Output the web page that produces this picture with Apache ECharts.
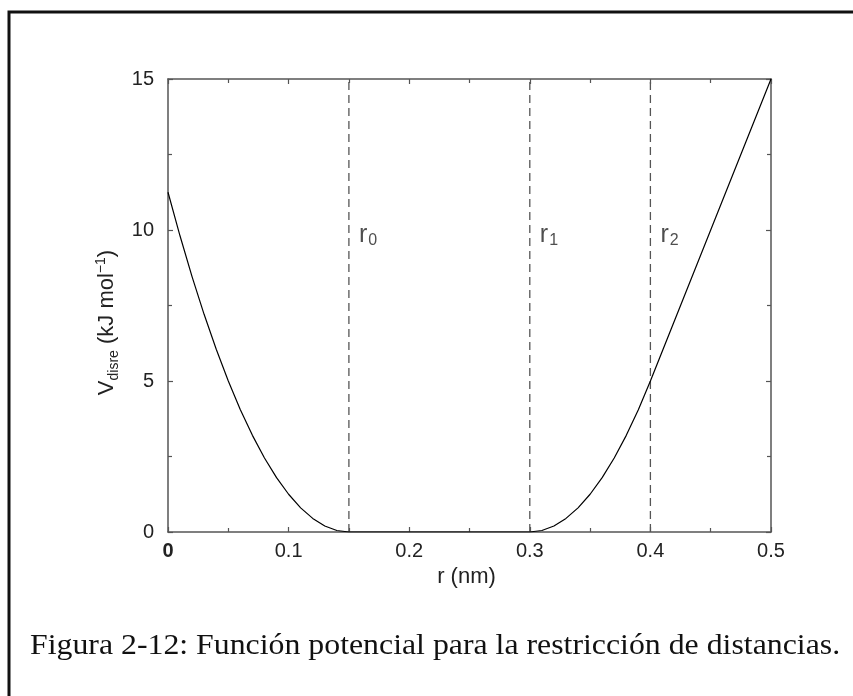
<!DOCTYPE html>
<html>
<head>
<meta charset="utf-8">
<script src="https://cdn.jsdelivr.net/npm/echarts@6/dist/echarts.min.js"></script>
<style>
    html, body { margin: 0; padding: 0; background: #fff; }
    #chart { width: 853px; height: 696px; }
</style>
</head>
<body>
<div id="chart"></div>
<script>
// curve: r (nm) vs V_disre (kJ mol^-1)
var rValues = [0, 0.01, 0.02, 0.03, 0.04, 0.05, 0.06, 0.07, 0.08, 0.09, 0.10, 0.11, 0.12, 0.13, 0.14, 0.15,
    0.20, 0.25, 0.30, 0.31, 0.32, 0.33, 0.34, 0.35, 0.36, 0.37, 0.38, 0.39, 0.40, 0.45, 0.50]
var vValues = [11.25, 9.8, 8.45, 7.2, 6.05, 5.0, 4.05, 3.2, 2.45, 1.8, 1.25, 0.8, 0.45, 0.2, 0.05, 0,
    0, 0, 0, 0.05, 0.2, 0.45, 0.8, 1.25, 1.8, 2.45, 3.2, 4.05, 5.0, 10.0, 15.0]

// dashed reference distances and their subscripts
var markR = [0.15, 0.30, 0.40]
var markNames = ['0', '1', '2']

var xTicks = [0, 0.1, 0.2, 0.3, 0.4, 0.5]
var yTicks = [0, 5, 10, 15]

var chart = echarts.init(document.getElementById('chart'))

var axisColor = '#555'
var labelFont = '"Liberation Sans", Arial, sans-serif'

function frameAxis(pos, isX) {
    return {
        type: 'value',
        position: pos,
        min: 0,
        max: isX ? 0.5 : 15,
        interval: isX ? 0.1 : 5,
        axisLine: { show: true, onZero: false, lineStyle: { color: axisColor, width: 1.5 } },
        axisTick: { show: true, inside: true, length: 5, lineStyle: { color: axisColor, width: 1.2 } },
        minorTick: { show: true, splitNumber: 2, length: 4, lineStyle: { color: axisColor, width: 1.2 } },
        splitLine: { show: false },
        axisLabel: { show: false }
    }
}

var xMain = frameAxis('bottom', true)
xMain.axisLabel = {
    show: true,
    margin: 9,
    color: '#222',
    fontSize: 20,
    fontFamily: labelFont,
    formatter: function (v) {
        if (v === 0) return '{b|0}'
        return String(+v.toFixed(1))
    },
    rich: { b: { fontSize: 20, fontWeight: 'bold', fontFamily: labelFont, color: '#222' } }
}
xMain.name = 'r (nm)'
xMain.nameLocation = 'middle'
xMain.nameGap = 33
xMain.nameTextStyle = { color: '#222', fontSize: 22, fontFamily: labelFont, padding: [0, 6, 0, 0] }

var yMain = frameAxis('left', false)
yMain.axisLabel = {
    show: true,
    margin: 14,
    color: '#222',
    fontSize: 20,
    fontFamily: labelFont
}
yMain.name = '{n|V}{sub|disre}{n| (kJ mol}{sup|−1}{n|)}'
yMain.nameLocation = 'middle'
yMain.nameGap = 46
yMain.nameRotate = 90
yMain.nameTextStyle = {
    color: '#222',
    fontFamily: labelFont,
    padding: [0, 34, 0, 0],
    rich: {
        n: { fontSize: 22, fontFamily: labelFont, color: '#222', lineHeight: 27 },
        sub: { fontSize: 14, fontFamily: labelFont, color: '#222', verticalAlign: 'bottom', lineHeight: 14 },
        sup: { fontSize: 14, fontFamily: labelFont, color: '#222', verticalAlign: 'top', lineHeight: 14 }
    }
}

var series = [{
    type: 'line',
    data: rValues.map(function (r, i) { return [r, vValues[i]] }),
    showSymbol: false,
    lineStyle: { color: '#000', width: 1.2 },
    z: 5
}]

markR.forEach(function (r, i) {
    series.push({
        type: 'line',
        data: [[r, 0], [r, 15]],
        showSymbol: false,
        lineStyle: { color: '#555', width: 1.3, type: [8, 5] },
        z: 3
    })
    series.push({
        type: 'scatter',
        data: [[r, 10]],
        symbolSize: 0,
        label: {
            show: true,
            position: 'right',
            distance: 10,
            offset: [0, 5],
            formatter: '{r|r}{s|' + markNames[i] + '}',
            rich: {
                r: { fontSize: 25, fontFamily: labelFont, color: '#222' },
                s: { fontSize: 16, fontFamily: labelFont, color: '#222', verticalAlign: 'bottom', padding: [12, 0, 0, 1] }
            }
        },
        silent: true
    })
})

var option = {
    animation: false,
    backgroundColor: '#fff',
    grid: { left: 168, top: 79, width: 603, height: 453, containLabel: false },
    xAxis: [xMain, frameAxis('top', true)],
    yAxis: [yMain, frameAxis('right', false)],
    series: series,
    graphic: [{
        type: 'rect',
        shape: { x: 9, y: 12, width: 900, height: 800 },
        style: { fill: 'none', stroke: '#111', lineWidth: 3 },
        silent: true
    }, {
        type: 'text',
        x: 30,
        y: 632,
        scaleX: 1.097,
        style: {
            text: 'Figura 2-12: Función potencial para la restricción de distancias.',
            font: '29px "Liberation Serif", "Times New Roman", serif',
            fill: '#111'
        }
    }]
}

chart.setOption(option)
</script>
</body>
</html>
